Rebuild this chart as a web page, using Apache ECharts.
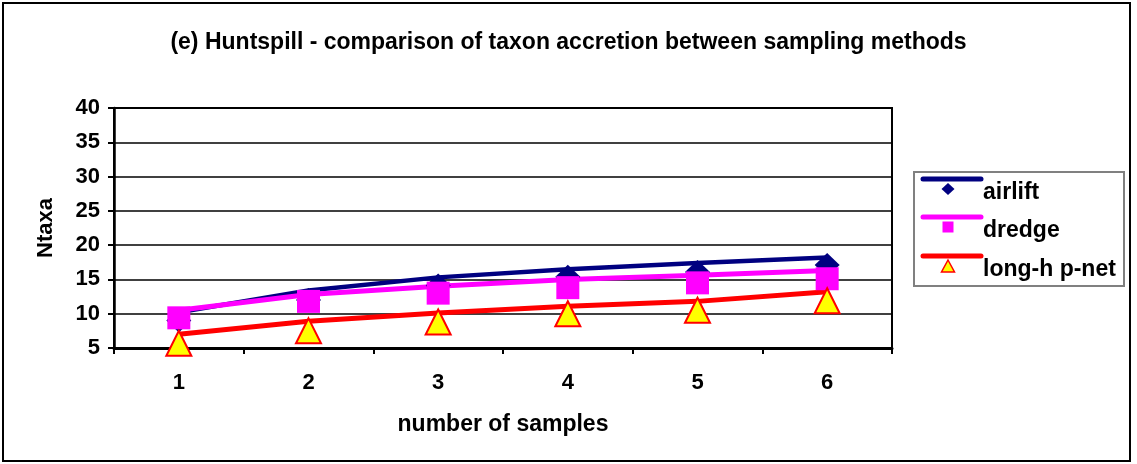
<!DOCTYPE html>
<html>
<head>
<meta charset="utf-8">
<script src="https://cdn.jsdelivr.net/npm/echarts@6/dist/echarts.min.js"></script>
<style>
  html, body { margin: 0; padding: 0; background: #fff; }
  #chart { width: 1137px; height: 464px; }
</style>
</head>
<body>
<div id="chart"></div>
<script>
// Categories: cumulative number of samples
var samples = ['1', '2', '3', '4', '5', '6'];

// Observed cumulative taxa (markers)
var airlift = [9.0, 12.0, 14.1, 15.4, 16.1, 17.1];
var dredge = [9.4, 11.8, 13.0, 13.8, 14.5, 15.1];
var longNet = [5.7, 7.5, 8.8, 10.0, 10.5, 11.9];

// Accretion curves drawn through each method
var airliftCurve = [10.2, 13.4, 15.3, 16.5, 17.4, 18.2];
var dredgeCurve = [10.5, 12.8, 14.0, 15.0, 15.6, 16.3];
var longNetCurve = [7.0, 8.9, 10.1, 11.1, 11.8, 13.2];

// Axis ticks
var yTicks = { min: 5, max: 40, step: 5 };

var seriesNames = ['airlift', 'dredge', 'long-h p-net'];

var NAVY = '#000080', MAGENTA = '#FF00FF', RED = '#FF0000', YELLOW = '#FFFF00';
var FONT = '"Liberation Sans", Arial, sans-serif';

var chart = echarts.init(document.getElementById('chart'));

function curve(name, data, color, width, z) {
  return {
    name: name, type: 'line', data: data, showSymbol: false, z: z,
    lineStyle: { color: color, width: width }, itemStyle: { color: color },
    silent: true, animation: false
  };
}
function markers(name, data, symbol, size, fill, border, bw, z) {
  return {
    name: name, type: 'line', data: data, symbol: symbol, symbolSize: size,
    showAllSymbol: true, z: z,
    lineStyle: { width: 0, opacity: 0 },
    itemStyle: { color: fill, borderColor: border, borderWidth: bw, opacity: 1 },
    animation: false
  };
}

// Legend box drawn with graphic elements
var lgX = 914, lgY = 172;
var legendRows = [
  { name: seriesNames[0], color: NAVY, y: 179 },
  { name: seriesNames[1], color: MAGENTA, y: 217 },
  { name: seriesNames[2], color: RED, y: 256 }
];
var legendGraphics = [{
  type: 'rect', shape: { x: lgX, y: lgY, width: 210, height: 114 },
  style: { fill: '#fff', stroke: '#808080', lineWidth: 2 }
}];
legendRows.forEach(function (r, i) {
  legendGraphics.push({
    type: 'line', shape: { x1: 923, y1: r.y, x2: 981, y2: r.y },
    style: { stroke: r.color, lineWidth: 5, lineCap: 'round' }
  });
  var cx = 948, cy = r.y + 10;
  if (i === 0) {
    legendGraphics.push({ type: 'polygon', shape: { points: [[cx, cy - 6], [cx + 6.5, cy], [cx, cy + 6], [cx - 6.5, cy]] }, style: { fill: NAVY } });
  } else if (i === 1) {
    legendGraphics.push({ type: 'rect', shape: { x: cx - 5.5, y: cy - 5.5, width: 11, height: 11 }, style: { fill: MAGENTA } });
  } else {
    legendGraphics.push({ type: 'polygon', shape: { points: [[cx, cy - 6], [cx + 6.5, cy + 6], [cx - 6.5, cy + 6]] }, style: { fill: YELLOW, stroke: RED, lineWidth: 1.5 } });
  }
  legendGraphics.push({
    type: 'text', x: 983, y: r.y + 14,
    style: { text: r.name, font: 'bold 23px ' + FONT, fill: '#000', verticalAlign: 'middle', align: 'left' }
  });
});

var option = {
  animation: false,
  backgroundColor: '#fff',
  title: {
    text: '(e) Huntspill - comparison of taxon accretion between sampling methods',
    left: 'center', top: 26,
    textStyle: { fontFamily: FONT, fontWeight: 'bold', fontSize: 23, color: '#000' }
  },
  grid: {
    left: 114, right: 245, top: 108, bottom: 116,
    show: true, borderColor: '#000', borderWidth: 2, backgroundColor: '#fff'
  },
  xAxis: {
    type: 'category', data: samples, boundaryGap: true,
    name: 'number of samples', nameLocation: 'middle', nameGap: 65,
    nameTextStyle: { fontFamily: FONT, fontWeight: 'bold', fontSize: 23, color: '#000' },
    axisLine: { show: true, lineStyle: { color: '#000', width: 3 } },
    axisTick: { show: true, interval: 0, length: 6, lineStyle: { color: '#000', width: 2 } },
    axisLabel: { margin: 24, fontFamily: FONT, fontWeight: 'bold', fontSize: 22, color: '#000' },
    splitLine: { show: false }
  },
  yAxis: {
    type: 'value', min: yTicks.min, max: yTicks.max, interval: yTicks.step,
    name: 'Ntaxa', nameLocation: 'middle', nameGap: 57, nameRotate: 90,
    nameTextStyle: { fontFamily: FONT, fontWeight: 'bold', fontSize: 22, color: '#000' },
    axisLine: { show: true, lineStyle: { color: '#000', width: 2.5 } },
    axisTick: { show: true, length: 6, lineStyle: { color: '#000', width: 2 } },
    axisLabel: { margin: 14, fontFamily: FONT, fontWeight: 'bold', fontSize: 22, color: '#000' },
    splitLine: { show: true, lineStyle: { color: '#000', width: 1.5 } }
  },
  series: [
    curve(seriesNames[0], airliftCurve, NAVY, 4.5, 2),
    curve(seriesNames[1], dredgeCurve, MAGENTA, 5, 3),
    curve(seriesNames[2], longNetCurve, RED, 5, 3),
    markers(seriesNames[0], airlift, 'diamond', [25, 24], NAVY, NAVY, 0, 4),
    markers(seriesNames[1], dredge, 'rect', [23, 23], MAGENTA, MAGENTA, 0, 5),
    markers(seriesNames[2], longNet, 'triangle', [25, 25], YELLOW, RED, 2, 6)
  ],
  graphic: [{
    type: 'rect', shape: { x: 3, y: 3, width: 1127, height: 458 }, z: -1,
    style: { fill: 'none', stroke: '#000', lineWidth: 2 }
  }].concat(legendGraphics)
};

chart.setOption(option);
</script>
</body>
</html>
